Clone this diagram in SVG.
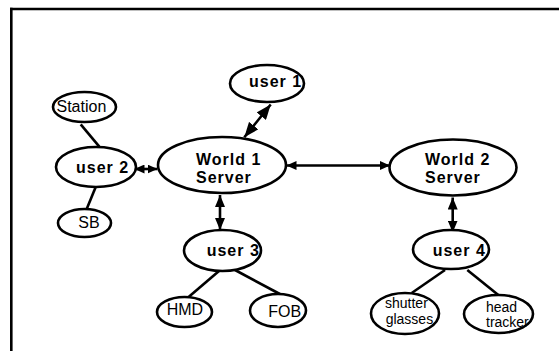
<svg xmlns="http://www.w3.org/2000/svg" width="559" height="351" viewBox="0 0 559 351">
<style>
.n ellipse{fill:#fff;stroke:#000;stroke-width:2.6}
.b{font-family:"Liberation Sans",Arial,sans-serif;font-weight:bold;font-size:16px;letter-spacing:1px;fill:#000}
.r{font-family:"Liberation Sans",Arial,sans-serif;font-size:16px;fill:#000}
.s{font-family:"Liberation Sans",Arial,sans-serif;font-size:14px;fill:#000}
.c line{stroke:#000;stroke-width:2.6;fill:none}
</style>
<defs>
<marker id="ah" viewBox="0 0 12 10" refX="12" refY="5" markerWidth="12" markerHeight="10" markerUnits="userSpaceOnUse" orient="auto-start-reverse"><path d="M0,0 L12,5 L0,10 z" fill="#000"/></marker>
<marker id="ahs" viewBox="0 0 10 9" refX="10" refY="4.5" markerWidth="10" markerHeight="9" markerUnits="userSpaceOnUse" orient="auto-start-reverse"><path d="M0,0 L10,4.5 L0,9 z" fill="#000"/></marker>
<marker id="ahl" viewBox="0 0 15 12" refX="15" refY="6" markerWidth="15" markerHeight="12" markerUnits="userSpaceOnUse" orient="auto-start-reverse"><path d="M0,0 L15,6 L0,12 z" fill="#000"/></marker>
</defs>
<rect width="559" height="351" fill="#fff"/>
<g id="frame" stroke="#000" stroke-width="2.6" fill="none">
<line x1="10" y1="9" x2="559" y2="9"/>
<line x1="11.3" y1="7.7" x2="11.3" y2="351"/>
</g>
<g class="c" id="connectors">
<line x1="80.7" y1="124.3" x2="99.3" y2="146.7"/>
<line x1="95.7" y1="187" x2="86.7" y2="209"/>
<line x1="134.5" y1="169" x2="157.5" y2="169" marker-start="url(#ahs)" marker-end="url(#ahs)"/>
<line x1="244.3" y1="137.3" x2="270.7" y2="104.5" marker-start="url(#ahl)" marker-end="url(#ahl)"/>
<line x1="220" y1="195" x2="220" y2="230" marker-start="url(#ah)" marker-end="url(#ah)"/>
<line x1="286.5" y1="165.5" x2="390" y2="165.5" marker-start="url(#ahs)" marker-end="url(#ahs)"/>
<line x1="452.7" y1="197.5" x2="452.7" y2="232.5" marker-start="url(#ah)" marker-end="url(#ah)"/>
<line x1="219" y1="271" x2="188.3" y2="297.3"/>
<line x1="235" y1="270" x2="281.7" y2="295"/>
<line x1="445" y1="270" x2="411.7" y2="293"/>
<line x1="467.3" y1="270" x2="498.3" y2="295"/>
</g>
<g class="n" id="station"><ellipse cx="84.5" cy="107" rx="31.5" ry="15"/><text class="r" x="56.5" y="111.7">Station</text></g>
<g class="n" id="user2"><ellipse cx="96" cy="167" rx="40" ry="20"/><text class="b" x="76" y="172.7">user 2</text></g>
<g class="n" id="sb"><ellipse cx="84.5" cy="223" rx="26.5" ry="14"/><text class="r" x="78.3" y="228.3">SB</text></g>
<g class="n" id="user1"><ellipse cx="267" cy="83.5" rx="37" ry="18.5"/><text class="b" x="249" y="87.3">user 1</text></g>
<g class="n" id="world1"><ellipse cx="222" cy="165" rx="64" ry="28"/><text class="b" x="196" y="165">World 1</text><text class="b" x="196" y="183.3">Server</text></g>
<g class="n" id="world2"><ellipse cx="453" cy="167.5" rx="63.5" ry="28"/><text class="b" x="425" y="165">World 2</text><text class="b" x="425" y="183.3">Server</text></g>
<g class="n" id="user3"><ellipse cx="222.5" cy="250.5" rx="38.5" ry="20.5"/><text class="b" x="206.7" y="256">user 3</text></g>
<g class="n" id="user4"><ellipse cx="451" cy="249.5" rx="38" ry="19.5"/><text class="b" x="432.7" y="256">user 4</text></g>
<g class="n" id="hmd"><ellipse cx="184.5" cy="312" rx="27.5" ry="15"/><text class="r" x="166.7" y="315">HMD</text></g>
<g class="n" id="fob"><ellipse cx="278" cy="310.5" rx="28" ry="16.5"/><text class="r" x="268.3" y="316.7">FOB</text></g>
<g class="n" id="shutter"><ellipse cx="405" cy="313.5" rx="34" ry="20.5"/><text class="s" x="385" y="308.3">shutter</text><text class="s" x="385.7" y="324">glasses</text></g>
<g class="n" id="head"><ellipse cx="498.5" cy="314" rx="34.5" ry="19"/><text class="s" x="486" y="311.7">head</text><text class="s" x="486" y="326.7">tracker</text></g>
</svg>
